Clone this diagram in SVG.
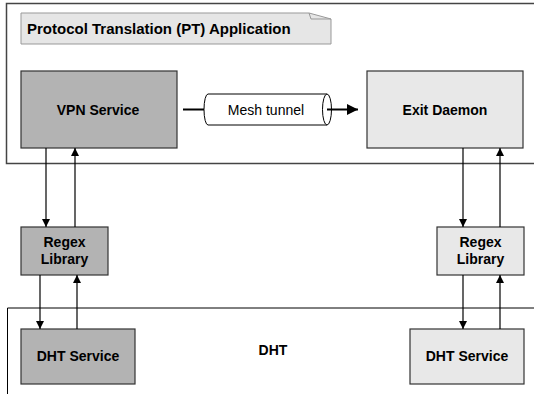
<svg xmlns="http://www.w3.org/2000/svg" width="534" height="394" viewBox="0 0 534 394">
<defs>
<style>
.t{font-family:"Liberation Sans",Arial,sans-serif;font-weight:bold;font-size:14px;fill:#000;text-anchor:middle}
.tr{font-family:"Liberation Sans",Arial,sans-serif;font-size:14px;fill:#000;text-anchor:middle}
.dark{fill:#b3b3b3;stroke:#333;stroke-width:1.2}
.light{fill:#e8e8e8;stroke:#333;stroke-width:1.2}
.c{stroke:#000;stroke-width:1.2;fill:none}
</style>
<marker id="ah" viewBox="0 0 10 10" refX="10" refY="5" markerWidth="8" markerHeight="10" markerUnits="userSpaceOnUse" orient="auto">
<path d="M0,0 L10,5 L0,10 Z" fill="#000"/>
</marker>
<marker id="ahb" viewBox="0 0 10 10" refX="10" refY="5" markerWidth="14" markerHeight="11" markerUnits="userSpaceOnUse" orient="auto">
<path d="M0,0 L10,5 L0,10 Z" fill="#000"/>
</marker>
</defs>
<rect width="534" height="394" fill="#fff"/>
<g id="pt-app">
<path d="M540,3.5 H6.5 V163.5 H540" fill="none" stroke="#444" stroke-width="1.5"/>
</g>
<g id="dht-area">
<path d="M540,308 H7.5 V400" fill="none" stroke="#000" stroke-width="1"/>
<text class="t" x="273" y="355">DHT</text>
</g>
<g id="title-note">
<path d="M21,13 H309 L331,19 V44 H21 Z" fill="#e6e6e6" stroke="#999" stroke-width="1"/>
<path d="M309,13 L311,19 H331" fill="none" stroke="#999" stroke-width="1"/>
<text class="t" x="27" y="34" style="text-anchor:start;font-size:15px">Protocol Translation (PT) Application</text>
</g>
<g id="vpn-service">
<rect class="dark" x="21" y="71" width="156" height="77"/>
<text class="t" x="98" y="115">VPN Service</text>
</g>
<g id="exit-daemon">
<rect class="light" x="367" y="71" width="156" height="77"/>
<text class="t" x="445" y="115">Exit Daemon</text>
</g>
<g id="mesh-tunnel">
<rect x="208" y="94" width="119" height="31" fill="#fff" stroke="none"/>
<path d="M208,94 H327 M208,125 H327 M208,94 A4,15.5 0 0 0 208,125" fill="none" stroke="#000" stroke-width="1"/>
<ellipse cx="327" cy="109.5" rx="4.5" ry="15.5" fill="#fff" stroke="#000" stroke-width="1"/>
<text class="tr" x="266" y="114.5">Mesh tunnel</text>
</g>
<g id="regex-left">
<rect class="dark" x="21" y="227" width="87" height="48"/>
<text class="t" x="64.5" y="247">Regex</text>
<text class="t" x="64.5" y="264">Library</text>
</g>
<g id="regex-right">
<rect class="light" x="437" y="227" width="87" height="48"/>
<text class="t" x="480.5" y="247">Regex</text>
<text class="t" x="480.5" y="264">Library</text>
</g>
<g id="dht-left">
<rect class="dark" x="21" y="329" width="114" height="55"/>
<text class="t" x="78" y="361">DHT Service</text>
</g>
<g id="dht-right">
<rect class="light" x="410" y="329" width="114" height="55"/>
<text class="t" x="467" y="361">DHT Service</text>
</g>
<g id="connectors">
<line x1="183" y1="109.5" x2="204" y2="109.5" stroke="#000" stroke-width="2"/>
<line x1="327" y1="109.5" x2="358" y2="109.5" stroke="#000" stroke-width="2" marker-end="url(#ahb)"/>
<line class="c" x1="46" y1="148" x2="46" y2="227" marker-end="url(#ah)"/>
<line class="c" x1="75" y1="227" x2="75" y2="148" marker-end="url(#ah)"/>
<line class="c" x1="463" y1="148" x2="463" y2="227" marker-end="url(#ah)"/>
<line class="c" x1="500" y1="227" x2="500" y2="148" marker-end="url(#ah)"/>
<line class="c" x1="40" y1="275" x2="40" y2="329" marker-end="url(#ah)"/>
<line class="c" x1="77" y1="329" x2="77" y2="275" marker-end="url(#ah)"/>
<line class="c" x1="463" y1="275" x2="463" y2="329" marker-end="url(#ah)"/>
<line class="c" x1="500" y1="329" x2="500" y2="275" marker-end="url(#ah)"/>
</g>
</svg>
